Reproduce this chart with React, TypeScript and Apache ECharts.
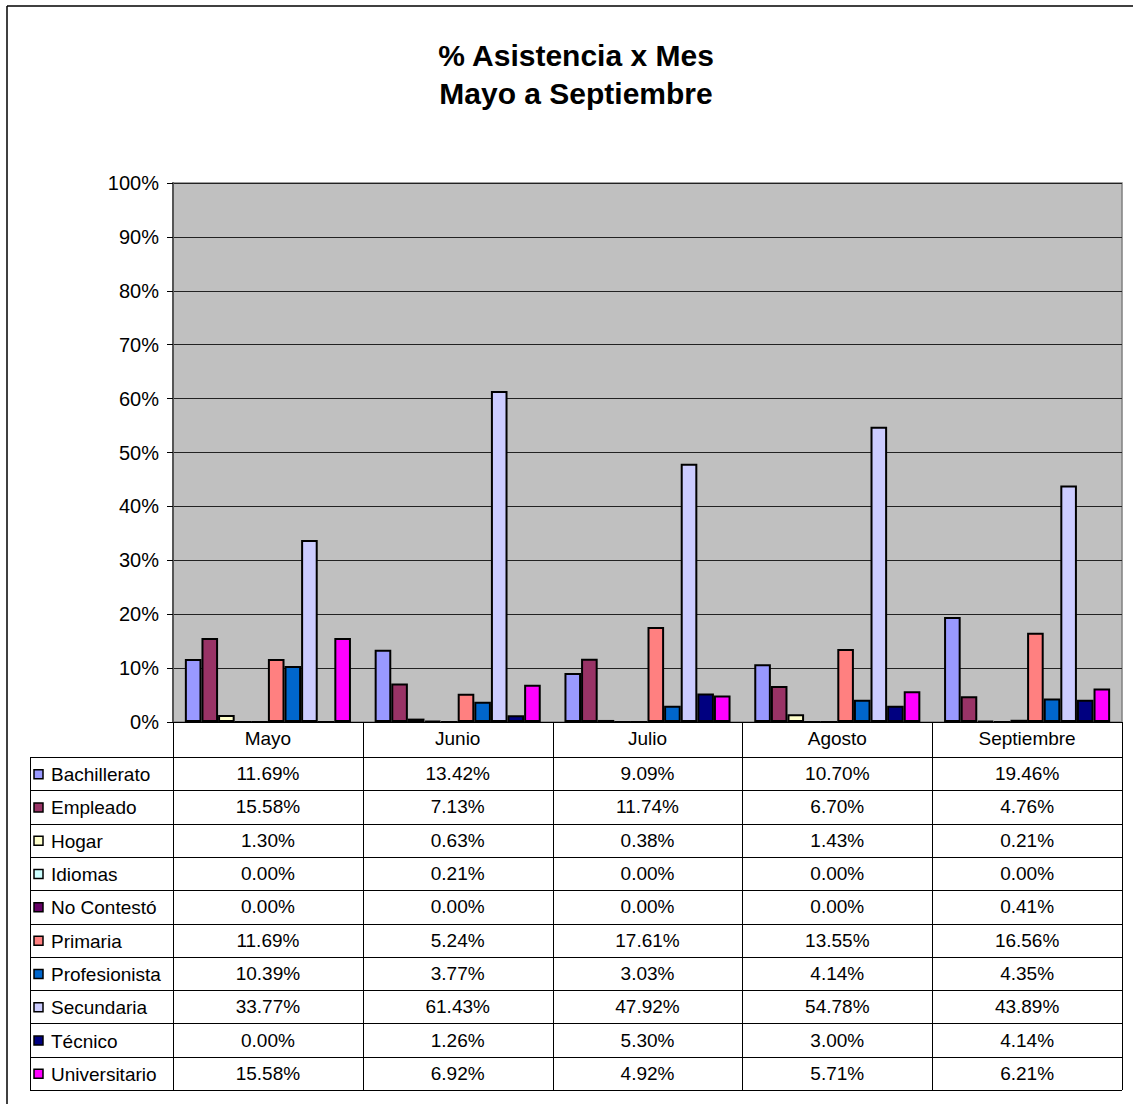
import React, { useEffect, useRef } from "react";
import * as echarts from "echarts";

const months = ["Mayo", "Junio", "Julio", "Agosto", "Septiembre"];
const seriesNames = [
  "Bachillerato",
  "Empleado",
  "Hogar",
  "Idiomas",
  "No Contestó",
  "Primaria",
  "Profesionista",
  "Secundaria",
  "Técnico",
  "Universitario",
];
const bachillerato = [11.69, 13.42, 9.09, 10.7, 19.46];
const empleado = [15.58, 7.13, 11.74, 6.7, 4.76];
const hogar = [1.3, 0.63, 0.38, 1.43, 0.21];
const idiomas = [0.0, 0.21, 0.0, 0.0, 0.0];
const noContesto = [0.0, 0.0, 0.0, 0.0, 0.41];
const primaria = [11.69, 5.24, 17.61, 13.55, 16.56];
const profesionista = [10.39, 3.77, 3.03, 4.14, 4.35];
const secundaria = [33.77, 61.43, 47.92, 54.78, 43.89];
const tecnico = [0.0, 1.26, 5.3, 3.0, 4.14];
const universitario = [15.58, 6.92, 4.92, 5.71, 6.21];
const seriesValues = [
  bachillerato,
  empleado,
  hogar,
  idiomas,
  noContesto,
  primaria,
  profesionista,
  secundaria,
  tecnico,
  universitario,
];
const seriesColors = [
  "#9999FF",
  "#993366",
  "#FFFFCC",
  "#CCFFFF",
  "#660066",
  "#FF8080",
  "#0066CC",
  "#CCCCFF",
  "#000080",
  "#FF00FF",
];
const titleLines = ["% Asistencia x Mes", "Mayo a Septiembre"];

const FONT = "'Liberation Sans', Arial, sans-serif";
const W = 1133;
const H = 1104;
const GL = 173;
const GT = 183;
const GW = 949;
const GH = 539;
const GB = GT + GH;
const HEADER_H = 35;
const ROW_H = 33.3;
const TABLE_L = 30;

export default function App() {
  const ref = useRef<HTMLDivElement>(null);
  useEffect(() => {
    if (!ref.current) return;
    const chart = echarts.init(ref.current, undefined, { renderer: "svg" });
    const colW = GW / months.length;
    const tableTop = GB + HEADER_H;
    const tableBottom = tableTop + ROW_H * seriesNames.length;
    const lineStyle = { stroke: "#000", lineWidth: 1 };
    const graphics: any[] = [];
    // outer border
    graphics.push({ type: "line", shape: { x1: 7, y1: 6, x2: W, y2: 6 }, style: { stroke: "#000", lineWidth: 1.5 } });
    graphics.push({ type: "line", shape: { x1: 7, y1: 6, x2: 7, y2: H }, style: { stroke: "#000", lineWidth: 1.5 } });
    // table horizontal lines
    for (let i = 0; i <= seriesNames.length; i++) {
      const y = Math.round(tableTop + i * ROW_H) + 0.5;
      graphics.push({ type: "line", shape: { x1: TABLE_L, y1: y, x2: GL + GW, y2: y }, style: lineStyle });
    }
    // vertical lines
    graphics.push({ type: "line", shape: { x1: TABLE_L + 0.5, y1: tableTop, x2: TABLE_L + 0.5, y2: tableBottom }, style: lineStyle });
    for (let j = 0; j <= months.length; j++) {
      const x = Math.round(GL + j * colW) + 0.5;
      graphics.push({ type: "line", shape: { x1: x, y1: GB, x2: x, y2: tableBottom }, style: lineStyle });
    }
    // rows
    seriesNames.forEach((name, i) => {
      const cy = tableTop + i * ROW_H + ROW_H / 2 + 1;
      graphics.push({
        type: "rect",
        shape: { x: 34, y: cy - 5, width: 9, height: 9 },
        style: { fill: seriesColors[i], stroke: "#000", lineWidth: 1.5 },
      });
      graphics.push({
        type: "text",
        x: 51,
        y: cy,
        style: { text: name, font: `19px ${FONT}`, fill: "#000", verticalAlign: "middle", align: "left" },
      });
      seriesValues[i].forEach((v, j) => {
        graphics.push({
          type: "text",
          x: GL + j * colW + colW / 2,
          y: cy - 1,
          style: { text: v.toFixed(2) + "%", font: `19px ${FONT}`, fill: "#000", verticalAlign: "middle", align: "center" },
        });
      });
    });
    // title
    titleLines.forEach((t, i) => {
      graphics.push({
        type: "text",
        x: 576,
        y: 55 + i * 38,
        style: { text: t, font: `bold 30px ${FONT}`, fill: "#000", verticalAlign: "middle", align: "center" },
      });
    });

    chart.setOption({
      animation: false,
      backgroundColor: "#fff",
      textStyle: { fontFamily: FONT },
      grid: {
        left: GL,
        top: GT,
        width: GW,
        height: GH,
        show: true,
        backgroundColor: "#C0C0C0",
        borderColor: "#808080",
        borderWidth: 1.5,
      },
      xAxis: {
        type: "category",
        data: months,
        axisLine: { show: true, lineStyle: { color: "#000", width: 1 } },
        axisTick: { show: false },
        axisLabel: { fontSize: 19, color: "#000", margin: 7, fontFamily: FONT },
      },
      yAxis: {
        type: "value",
        min: 0,
        max: 100,
        interval: 10,
        axisLine: { show: true, lineStyle: { color: "#555", width: 2 } },
        axisTick: { show: true, length: 6, lineStyle: { color: "#000" } },
        axisLabel: { fontSize: 20, color: "#000", margin: 14, formatter: "{value}%", fontFamily: FONT },
        splitLine: { show: true, lineStyle: { color: "#222", width: 1 } },
      },
      series: seriesNames.map((name, i) => ({
        name,
        type: "bar",
        data: seriesValues[i],
        barGap: "0%",
        barCategoryGap: "12.5%",
        itemStyle: { color: seriesColors[i], borderColor: "#000", borderWidth: 2 },
      })),
      graphic: graphics,
    });
    return () => chart.dispose();
  }, []);
  return (
    <div
      ref={ref}
      style={{ position: "absolute", left: 0, top: 0, width: W, height: H }}
    />
  );
}
